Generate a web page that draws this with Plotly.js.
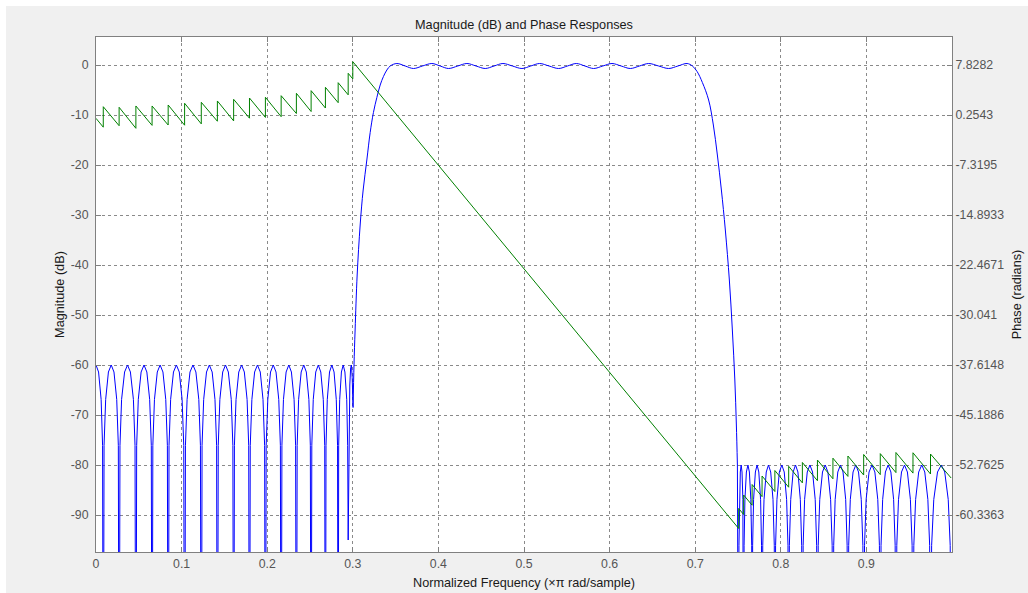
<!DOCTYPE html>
<html><head><meta charset="utf-8">
<script src="https://cdn.plot.ly/plotly-3.0.1.min.js"></script>
<style>html,body{margin:0;padding:0;background:#ffffff;} #chart{width:1028px;height:593px;}</style>
</head><body><div id="chart"></div>
<script>
// Normalized frequency (x pi rad/sample), magnitude in dB
const stopLow = [
[0,-60],[0.0030,-61.4],[0.0060,-66.9],[0.0077,-76.1],[0.0085,-150],
[0.0094,-76.1],[0.0113,-66.9],[0.0145,-61.4],[0.0178,-60],[0.0210,-61.4],[0.0242,-66.9],[0.0261,-76.1],[0.0270,-150],
[0.0280,-76.1],[0.0299,-66.9],[0.0334,-61.4],[0.0368,-60],[0.0402,-61.4],[0.0437,-66.9],[0.0456,-76.1],[0.0466,-150],
[0.0475,-76.1],[0.0494,-66.9],[0.0527,-61.4],[0.0561,-60],[0.0594,-61.4],[0.0627,-66.9],[0.0646,-76.1],[0.0655,-150],
[0.0664,-76.1],[0.0683,-66.9],[0.0716,-61.4],[0.0749,-60],[0.0782,-61.4],[0.0815,-66.9],[0.0834,-76.1],[0.0843,-150],
[0.0853,-76.1],[0.0872,-66.9],[0.0905,-61.4],[0.0939,-60],[0.0973,-61.4],[0.1006,-66.9],[0.1025,-76.1],[0.1035,-150],
[0.1045,-76.1],[0.1064,-66.9],[0.1098,-61.4],[0.1133,-60],[0.1167,-61.4],[0.1201,-66.9],[0.1220,-76.1],[0.1230,-150],
[0.1239,-76.1],[0.1258,-66.9],[0.1291,-61.4],[0.1324,-60],[0.1357,-61.4],[0.1390,-66.9],[0.1409,-76.1],[0.1418,-150],
[0.1428,-76.1],[0.1447,-66.9],[0.1480,-61.4],[0.1513,-60],[0.1546,-61.4],[0.1580,-66.9],[0.1599,-76.1],[0.1608,-150],
[0.1617,-76.1],[0.1636,-66.9],[0.1668,-61.4],[0.1701,-60],[0.1733,-61.4],[0.1765,-66.9],[0.1784,-76.1],[0.1793,-150],
[0.1802,-76.1],[0.1821,-66.9],[0.1853,-61.4],[0.1886,-60],[0.1919,-61.4],[0.1951,-66.9],[0.1970,-76.1],[0.1979,-150],
[0.1988,-76.1],[0.2007,-66.9],[0.2039,-61.4],[0.2071,-60],[0.2103,-61.4],[0.2135,-66.9],[0.2154,-76.1],[0.2163,-150],
[0.2172,-76.1],[0.2190,-66.9],[0.2221,-61.4],[0.2252,-60],[0.2283,-61.4],[0.2314,-66.9],[0.2332,-76.1],[0.2341,-150],
[0.2350,-76.1],[0.2367,-66.9],[0.2397,-61.4],[0.2427,-60],[0.2457,-61.4],[0.2487,-66.9],[0.2504,-76.1],[0.2513,-150],
[0.2521,-76.1],[0.2538,-66.9],[0.2567,-61.4],[0.2597,-60],[0.2626,-61.4],[0.2655,-66.9],[0.2672,-76.1],[0.2680,-150],
[0.2687,-76.1],[0.2702,-66.9],[0.2728,-61.4],[0.2755,-60],[0.2781,-61.4],[0.2807,-66.9],[0.2822,-76.1],[0.2829,-150],
[0.2835,-76.1],[0.2847,-66.9],[0.2867,-61.4],[0.2888,-60],[0.2908,-61.4],[0.2929,-66.9],[0.2940,-76.1],[0.2946,-95],
[0.2955,-75],[0.2965,-64],[0.2975,-60.5],[0.2984,-60],[0.2993,-62.5],[0.3003,-68.5]
];
const passBand = [
[0.3003,-68.5],[0.3014,-60],[0.3027,-53],[0.3051,-42],[0.3086,-32],[0.3121,-25],[0.3164,-19],[0.3203,-13.5],
[0.3241,-9.5],[0.3281,-6.5],[0.3320,-4],[0.3358,-2.3],[0.3398,-1.0],[0.3437,-0.2],[0.3515,0.3],
[0.3612,-0.2],[0.3709,-0.7],[0.3814,-0.2],[0.3924,0.3],[0.4021,-0.2],[0.4118,-0.7],[0.4226,-0.2],[0.4333,0.3],
[0.4440,-0.2],[0.4547,-0.7],[0.4651,-0.2],[0.4754,0.3],[0.4865,-0.2],[0.4976,-0.7],[0.5079,-0.2],[0.5182,0.3],
[0.5293,-0.2],[0.5404,-0.7],[0.5508,-0.2],[0.5611,0.3],[0.5712,-0.2],[0.5813,-0.7],[0.5921,-0.2],[0.6028,0.3],
[0.6135,-0.2],[0.6242,-0.7],[0.6349,-0.2],[0.6456,0.3],[0.6573,-0.2],[0.6690,-0.7],[0.6798,-0.2],[0.6905,0.3],
[0.6967,-0.2],[0.7022,-1.3],[0.7084,-3.5],[0.7157,-7],[0.7212,-12],[0.7259,-18],[0.7306,-25],[0.7352,-33],
[0.7399,-43],[0.7434,-53],[0.7463,-63],[0.7481,-72],[0.7493,-80]
];
const stopHigh = [
[0.7493,-80],[0.7508,-150],
[0.7511,-96.1],[0.7517,-86.9],[0.7527,-81.4],[0.7537,-80],[0.7547,-81.4],[0.7557,-86.9],[0.7563,-96.1],[0.7566,-150],
[0.7571,-96.1],[0.7581,-86.9],[0.7598,-81.4],[0.7616,-80],[0.7633,-81.4],[0.7650,-86.9],[0.7660,-96.1],[0.7665,-150],
[0.7671,-96.1],[0.7682,-86.9],[0.7703,-81.4],[0.7723,-80],[0.7743,-81.4],[0.7764,-86.9],[0.7775,-96.1],[0.7781,-150],
[0.7789,-96.1],[0.7804,-86.9],[0.7830,-81.4],[0.7856,-80],[0.7882,-81.4],[0.7909,-86.9],[0.7924,-96.1],[0.7931,-150],
[0.7939,-96.1],[0.7955,-86.9],[0.7983,-81.4],[0.8012,-80],[0.8040,-81.4],[0.8068,-86.9],[0.8084,-96.1],[0.8092,-150],
[0.8100,-96.1],[0.8116,-86.9],[0.8144,-81.4],[0.8172,-80],[0.8200,-81.4],[0.8228,-86.9],[0.8244,-96.1],[0.8252,-150],
[0.8261,-96.1],[0.8278,-86.9],[0.8309,-81.4],[0.8340,-80],[0.8371,-81.4],[0.8402,-86.9],[0.8419,-96.1],[0.8428,-150],
[0.8437,-96.1],[0.8455,-86.9],[0.8487,-81.4],[0.8519,-80],[0.8550,-81.4],[0.8582,-86.9],[0.8600,-96.1],[0.8609,-150],
[0.8618,-96.1],[0.8635,-86.9],[0.8666,-81.4],[0.8697,-80],[0.8727,-81.4],[0.8758,-86.9],[0.8775,-96.1],[0.8784,-150],
[0.8793,-96.1],[0.8812,-86.9],[0.8844,-81.4],[0.8876,-80],[0.8908,-81.4],[0.8940,-86.9],[0.8959,-96.1],[0.8968,-150],
[0.8978,-96.1],[0.8997,-86.9],[0.9031,-81.4],[0.9065,-80],[0.9099,-81.4],[0.9133,-86.9],[0.9152,-96.1],[0.9162,-150],
[0.9171,-96.1],[0.9190,-86.9],[0.9222,-81.4],[0.9254,-80],[0.9286,-81.4],[0.9318,-86.9],[0.9336,-96.1],[0.9345,-150],
[0.9355,-96.1],[0.9375,-86.9],[0.9410,-81.4],[0.9445,-80],[0.9479,-81.4],[0.9514,-86.9],[0.9534,-96.1],[0.9544,-150],
[0.9554,-96.1],[0.9575,-86.9],[0.9611,-81.4],[0.9647,-80],[0.9682,-81.4],[0.9718,-86.9],[0.9739,-96.1],[0.9749,-150],
[0.9762,-96.1],[0.9787,-86.9],[0.9831,-81.4],[0.9875,-80],[0.9915,-81.4],[0.9956,-86.9],[0.9979,-96.1],[0.9990,-150]
];
// Phase in radians
const phase = [
[0,-0.25],
[0.0085,-1.59],[0.0085,1.51],[0.0270,-1.37],[0.0270,1.42],[0.0466,-1.76],[0.0466,1.62],
[0.0655,-1.32],[0.0655,1.62],[0.0843,-1.26],[0.0843,1.77],[0.1035,-1.29],[0.1035,2.03],
[0.1230,-1.09],[0.1230,2.18],[0.1418,-0.69],[0.1418,2.38],[0.1608,-0.64],[0.1608,2.63],
[0.1793,-0.23],[0.1793,2.83],[0.1979,-0.11],[0.1979,2.94],[0.2163,0.00],[0.2163,3.18],
[0.2341,0.48],[0.2341,3.54],[0.2513,0.78],[0.2513,3.94],[0.2680,1.31],[0.2680,4.45],
[0.2829,2.12],[0.2829,5.15],[0.2946,3.31],[0.2946,6.57],[0.3000,5.72],[0.3000,8.33],
[0.7508,-62.38],[0.7508,-59.35],[0.7566,-60.26],[0.7566,-57.31],[0.7665,-58.85],[0.7665,-55.72],
[0.7781,-57.55],[0.7781,-54.43],[0.7931,-56.78],[0.7931,-53.60],[0.8092,-56.13],[0.8092,-52.96],
[0.8252,-55.47],[0.8252,-52.38],[0.8428,-55.14],[0.8428,-52.01],[0.8609,-54.85],[0.8609,-51.73],
[0.8784,-54.49],[0.8784,-51.40],[0.8968,-54.28],[0.8968,-51.17],[0.9162,-54.22],[0.9162,-51.04],
[0.9345,-53.91],[0.9345,-50.87],[0.9544,-53.99],[0.9544,-50.91],[0.9749,-54.13],[0.9749,-51.10],
[0.9990,-54.73]
];
const freqTickVals = [0,0.1,0.2,0.3,0.4,0.5,0.6,0.7,0.8,0.9];
const freqTickText = ['0','0.1','0.2','0.3','0.4','0.5','0.6','0.7','0.8','0.9'];
const magTickVals = [0,-10,-20,-30,-40,-50,-60,-70,-80,-90];
const magTickText = ['0','-10','-20','-30','-40','-50','-60','-70','-80','-90'];
const phaseTickVals = [7.8282,0.2543,-7.3195,-14.8933,-22.4671,-30.041,-37.6148,-45.1886,-52.7625,-60.3363];
const phaseTickText = ['7.8282','0.2543','-7.3195','-14.8933','-22.4671','-30.041','-37.6148','-45.1886','-52.7625','-60.3363'];

const magRange = [-97.4, 5.6];
const k = (phaseTickVals[0]-phaseTickVals[phaseTickVals.length-1])/(magTickVals[0]-magTickVals[magTickVals.length-1]);
const phRange = [phaseTickVals[0] + k*(magRange[0]-magTickVals[0]), phaseTickVals[0] + k*(magRange[1]-magTickVals[0])];

const xs = a => a.map(p => p[0]);
const ys = a => a.map(p => p[1]);
const blue = {color:'#0000ff', width:1};
const traces = [
  {x: xs(stopLow), y: ys(stopLow), type:'scatter', mode:'lines', line: blue, yaxis:'y', hoverinfo:'skip'},
  {x: xs(passBand), y: ys(passBand), type:'scatter', mode:'lines', line: Object.assign({shape:'spline'}, blue), yaxis:'y', hoverinfo:'skip'},
  {x: xs(stopHigh), y: ys(stopHigh), type:'scatter', mode:'lines', line: blue, yaxis:'y', hoverinfo:'skip'},
  {x: xs(phase), y: ys(phase), type:'scatter', mode:'lines', line:{color:'#008000', width:1}, yaxis:'y2', hoverinfo:'skip'}
];

const W = 1028, H = 593, L = 96, R = 76, T = 37, B = 41;
const pw = W-L-R, ph = H-T-B;
const px2x = p => (p-L)/pw, py2y = p => (H-B-p)/ph;
const gridCol = '#8a8a8a', axCol = '#808080';
const tickFont = {family:'Liberation Sans, Arial, sans-serif', size:12.3, color:'#555555'};
const titleFont = {family:'Liberation Sans, Arial, sans-serif', size:12.7, color:'#1a1a1a'};

const layout = {
  width: W, height: H,
  margin: {l:L, r:R, t:T, b:B, pad:0},
  paper_bgcolor:'#f0f0f0', plot_bgcolor:'#ffffff',
  showlegend:false,
  font: tickFont,
  title: {text:'Magnitude (dB) and Phase Responses', font: titleFont, xref:'paper', x:0.5, xanchor:'center', yref:'container', y:1-25/H, yanchor:'middle'},
  xaxis: {range:[0,1], tickmode:'array', tickvals:freqTickVals, ticktext:freqTickText, ticks:'inside', ticklen:5, tickcolor:axCol,
    showline:true, linecolor:axCol, linewidth:1, mirror:'ticks', showgrid:true, gridcolor:gridCol, griddash:'3px,3px', gridwidth:1,
    zeroline:false, tickfont:tickFont, fixedrange:true,
    title:{text:'Normalized Frequency (\u00d7\u03c0 rad/sample)', font:titleFont, standoff:8}},
  yaxis: {range:magRange, tickmode:'array', tickvals:magTickVals, ticktext:magTickText, ticks:'inside', ticklen:5, tickcolor:axCol,
    showline:true, linecolor:axCol, linewidth:1, mirror:true, showgrid:true, gridcolor:gridCol, griddash:'3px,3px', gridwidth:1,
    zeroline:false, tickfont:tickFont, fixedrange:true, ticklabelstandoff:4,
    title:{text:'Magnitude (dB)', font:titleFont, standoff:3}},
  yaxis2: {range:phRange, overlaying:'y', side:'right', anchor:'x', tickmode:'array', tickvals:phaseTickVals, ticktext:phaseTickText,
    ticks:'inside', ticklen:5, tickcolor:axCol, showline:true, linecolor:axCol, showgrid:false, zeroline:false, tickfont:tickFont, fixedrange:true,
    ticklabelstandoff:0,
    title:{text:'Phase (radians)', font:titleFont, standoff:8}},
  shapes: [
    {type:'rect', xref:'paper', yref:'paper', x0:px2x(0), x1:px2x(W), y0:py2y(6), y1:py2y(0), fillcolor:'#ffffff', line:{width:0}, layer:'below'},
    {type:'rect', xref:'paper', yref:'paper', x0:px2x(0), x1:px2x(6), y0:py2y(H), y1:py2y(0), fillcolor:'#ffffff', line:{width:0}, layer:'below'}
  ]
};
Plotly.newPlot('chart', traces, layout, {displayModeBar:false, staticPlot:true});
</script>
</body></html>
